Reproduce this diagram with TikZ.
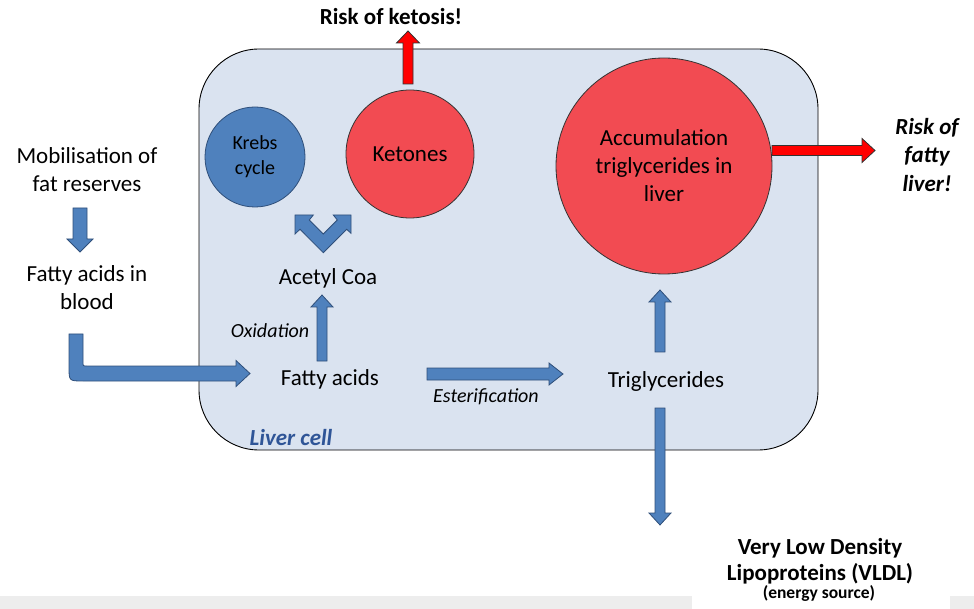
\documentclass[tikz,border=0pt]{standalone}
\usepackage{fontspec}
\setmainfont{Carlito}
\usetikzlibrary{calc}
\definecolor{cellfill}{HTML}{DAE3F0}
\definecolor{bluefill}{HTML}{4F81BD}
\definecolor{blueline}{HTML}{2F4F7A}
\definecolor{redfill}{HTML}{F24B52}
\definecolor{darkblue}{HTML}{2F5597}
\definecolor{strip}{HTML}{EDEDED}
\tikzset{
  blk/.style={fill=bluefill, draw=blueline, line width=0.8pt, line join=miter},
  rdk/.style={fill=red, draw=black!80, line width=0.8pt},
  txt/.style={align=center, font=\fontsize{23}{28}\selectfont, inner sep=0pt},
  ital/.style={font=\fontsize{20}{24}\selectfont\itshape, inner sep=0pt},
}
\newcommand\barrow[6]{%
  \path (#2) coordinate (bs) (#3) coordinate (be) ($(be)!#6!(bs)$) coordinate (bh);
  \draw[#1] ($(bs)!#4!90:(be)$) -- ($(bh)!#4!-90:(bs)$) -- ($(bh)!#5!-90:(bs)$) -- (be)
    -- ($(bh)!#5!90:(bs)$) -- ($(bh)!#4!90:(bs)$) -- ($(bs)!#4!-90:(be)$) -- cycle;}
\begin{document}
\begin{tikzpicture}[x=1pt,y=-1pt]
\useasboundingbox (0,0) rectangle (974,609);
% bottom strip
\fill[strip] (0,596) rectangle (692,609);
\fill[strip] (950,596) rectangle (974,609);
% liver cell
\draw[fill=cellfill, line width=0.9pt, rounded corners=60pt] (199,49) rectangle (818,450);
\node[font=\fontsize{23}{28}\selectfont\bfseries\itshape, text=darkblue, inner sep=0pt] (lc) at (291,438) {Liver cell};
% circles
\node[circle, fill=bluefill, draw=blueline, line width=0.8pt, minimum size=100pt, inner sep=0pt,
      align=center, font=\fontsize{20}{25}\selectfont] (krebs) at (255,157) {Krebs\\cycle};
\node[circle, fill=redfill, draw=black!80, line width=0.8pt, minimum size=128pt, inner sep=0pt,
      font=\fontsize{23}{28}\selectfont] (ket) at (410,154) {Ketones};
\node[circle, fill=redfill, draw=black!80, line width=0.8pt, minimum size=216pt, inner sep=0pt,
      align=center, font=\fontsize{23}{28}\selectfont] (acc) at (664,166) {Accumulation\\triglycerides in\\liver};
% texts
\node[txt] (mob) at (87,170) {Mobilisation of\\fat reserves};
\node[txt] (fab) at (87,288) {Fatty acids in\\blood};
\node[txt] (acoa) at (328,278) {Acetyl Coa};
\node[txt] (fa) at (330,379) {Fatty acids};
\node[txt] (tg) at (666,381) {Triglycerides};
\node[ital] (ox) at (270,331) {Oxidation};
\node[ital] (est) at (486,397) {Esterification};
\node[font=\fontsize{23}{28}\selectfont\bfseries, inner sep=0pt] (rk) at (391,17) {Risk of ketosis!};
\node[align=center, font=\fontsize{23}{28.5}\selectfont\bfseries\itshape, inner sep=0pt] (rf) at (927,155) {Risk of\\fatty\\liver!};
\node[align=center, font=\fontsize{23}{26}\selectfont\bfseries, inner sep=0pt] (vldl) at (820,561) {Very Low Density\\Lipoproteins (VLDL)};
\node[font=\fontsize{17.5}{20}\selectfont\bfseries, inner sep=0pt] (es) at (819,593) {(energy source)};
% coordinates for arrows
\coordinate (a1s) at (80,208); \coordinate (a1e) at (80,252);
\coordinate (a2s) at (322,361); \coordinate (a2e) at (322,295);
\coordinate (a3s) at (427,374); \coordinate (a3e) at (563,374);
\coordinate (a4s) at (660,352); \coordinate (a4e) at (660,290);
\coordinate (a5s) at (660,408); \coordinate (a5e) at (660,525);
\coordinate (r1s) at (408,84); \coordinate (r1e) at (408,31);
\coordinate (r2s) at (772,150.5); \coordinate (r2e) at (875,150.5);
% blue arrows
\barrow{blk}{a1s}{a1e}{7pt}{13pt}{13pt}
\barrow{blk}{a2s}{a2e}{5pt}{11pt}{12pt}
\barrow{blk}{a3s}{a3e}{6pt}{11pt}{14pt}
\barrow{blk}{a4s}{a4e}{5pt}{11pt}{12pt}
\barrow{blk}{a5s}{a5e}{5pt}{11pt}{12pt}
% red arrows
\barrow{rdk}{r1s}{r1e}{5pt}{11.5pt}{12pt}
\barrow{rdk}{r2s}{r2e}{5pt}{12pt}{13pt}
% bent arrow
\draw[blk] (69,334) -- (83,334) -- (83,362) .. controls (83,366) .. (87,366) -- (236,366)
  -- (236,360.5) -- (250,373.5) -- (236,386.5) -- (236,381) -- (83,381)
  .. controls (69,381) .. (69,367) -- cycle;
% chevron
\draw[blk] (295,215) -- (313.3,215) -- (309.3,220) -- (323.3,234) -- (337.3,220) -- (333.3,215)
  -- (351,215) -- (351,233.3) -- (346.7,229.3) -- (323.3,252.7) -- (300,229.3) -- (295,234) -- cycle;
\end{tikzpicture}
\end{document}
